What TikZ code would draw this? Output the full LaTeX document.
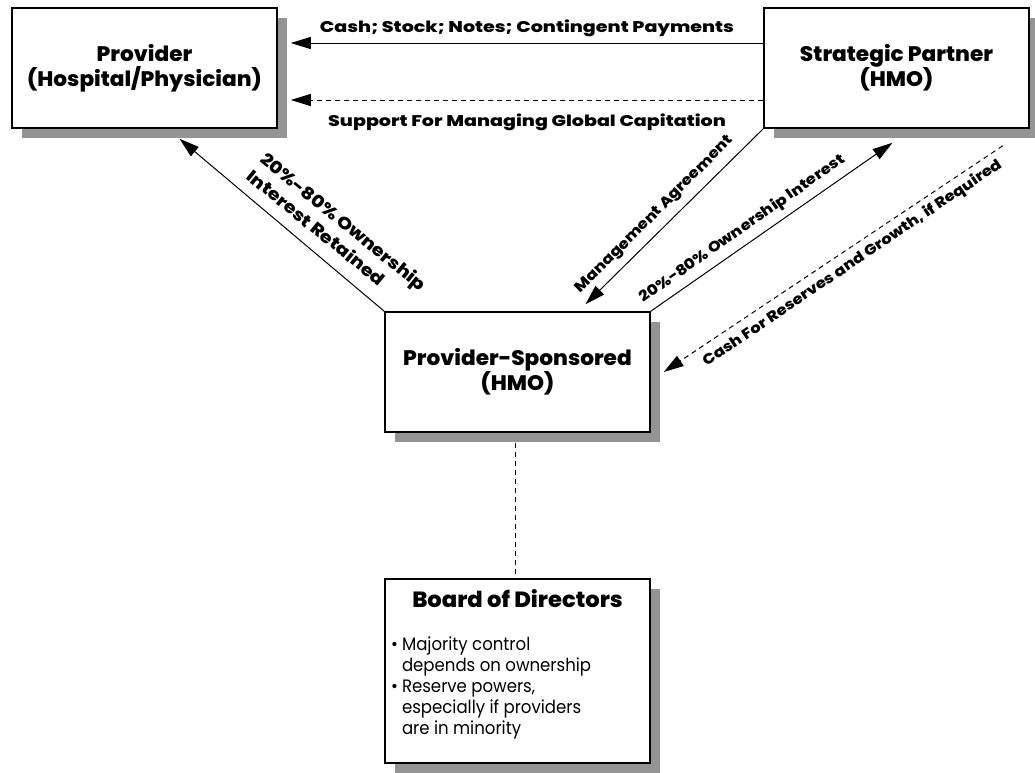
\documentclass[tikz,border=0pt]{standalone}
\usepackage{fontspec}
\setmainfont{Poppins}
\IfFontExistsTF{Poppins ExtraBold}{%
  \newfontfamily\hvbox[FakeStretch=1.03]{Poppins ExtraBold}%
  \newfontfamily\hvlbl[FakeStretch=1.23]{Poppins ExtraBold}%
  \newfontfamily\hvsl[FakeStretch=1.13]{Poppins ExtraBold}%
}{%
  \newfontfamily\hvbox[FakeStretch=1.1,FakeBold=1]{Poppins Bold}%
  \newfontfamily\hvlbl[FakeStretch=1.3,FakeBold=1]{Poppins Bold}%
  \newfontfamily\hvsl[FakeStretch=1.2,FakeBold=1]{Poppins Bold}%
}
\newfontfamily\bookfont[FakeStretch=0.92]{Poppins}
\usetikzlibrary{arrows.meta,shadows}
\begin{document}
\begin{tikzpicture}[x=1pt,y=-1pt,
  box/.style={draw=black, line width=1.5pt, fill=white, minimum width=265pt, minimum height=120pt,
    drop shadow={shadow xshift=10pt, shadow yshift=-10pt, fill=black!42, opacity=1},
    align=center, font=\hvbox\fontsize{21}{25}\selectfont, inner sep=0pt},
  arr/.style={line width=1pt, -{Triangle[length=20pt,width=12pt]}},
  dsh/.style={dash pattern=on 5pt off 4pt},
  lbl/.style={font=\hvlbl\fontsize{15.5}{21}\selectfont, inner sep=0pt},
  slbl/.style={font=\hvsl\fontsize{14.5}{21}\selectfont, inner sep=0pt}
]
\useasboundingbox (0,0) rectangle (1035,772);
\node[box] (prov) at (144.5,68) {Provider\\(Hospital/Physician)};
\node[box] (sp) at (896.5,68) {Strategic Partner\\(HMO)};
\node[box] (ps) at (517.5,372) {Provider-Sponsored\\(HMO)};
\node[box, minimum height=184pt] (bd) at (517.5,671) {};
\node[font=\hvbox\fontsize{22}{25}\selectfont, inner sep=0pt] (bdt) at (517.5,599) {Board of Directors};
\node[anchor=north west, inner sep=0pt, font=\bookfont\fontsize{18}{21}\selectfont] (bdl) at (391,636)
 {\begin{tabular}{@{}l@{\hspace{4pt}}l@{}}\textbullet & Majority control\\ & depends on ownership\\ \textbullet & Reserve powers,\\ & especially if providers\\ & are in minority\end{tabular}};

\draw[arr] ([yshift=25pt]sp.west) -- ([xshift=13pt,yshift=25pt]prov.east)
  node[midway, above=6pt, lbl] (l1) {Cash; Stock; Notes; Contingent Payments};
\draw[arr, dsh] ([yshift=-32pt]sp.west) -- ([xshift=13pt,yshift=-32pt]prov.east)
  node[midway, below=13pt, lbl] (l2) {Support For Managing Global Capitation};
\draw[arr] (ps.north west) -- ([xshift=35pt,yshift=-10pt]prov.south);
\node[font=\hvsl\fontsize{17}{22}\selectfont, inner sep=0pt, rotate=-39, align=left] (l3) at (337,230) {20\%-80\% Ownership\\Interest Retained};
\draw[arr] (sp.south west) -- ([xshift=68pt,yshift=7pt]ps.north);
\node[slbl, rotate=45] (l4) at (655,215) {Management Agreement};
\draw[arr] (ps.north east) -- ([xshift=-4pt,yshift=-14pt]sp.south);
\node[slbl, rotate=35] (l5) at (742.5,229) {20\%-80\% Ownership Interest};
\draw[arr, dsh] ([xshift=-27pt,yshift=-17pt]sp.south east) -- ([xshift=13pt]ps.east);
\node[slbl, rotate=34] (l6) at (852.5,263.5) {Cash For Reserves and Growth, if Required};
\draw[line width=0.8pt, dsh] ([xshift=-2.5pt,yshift=-10pt]ps.south) -- ([xshift=-2.5pt]bd.north);
\end{tikzpicture}
\end{document}
